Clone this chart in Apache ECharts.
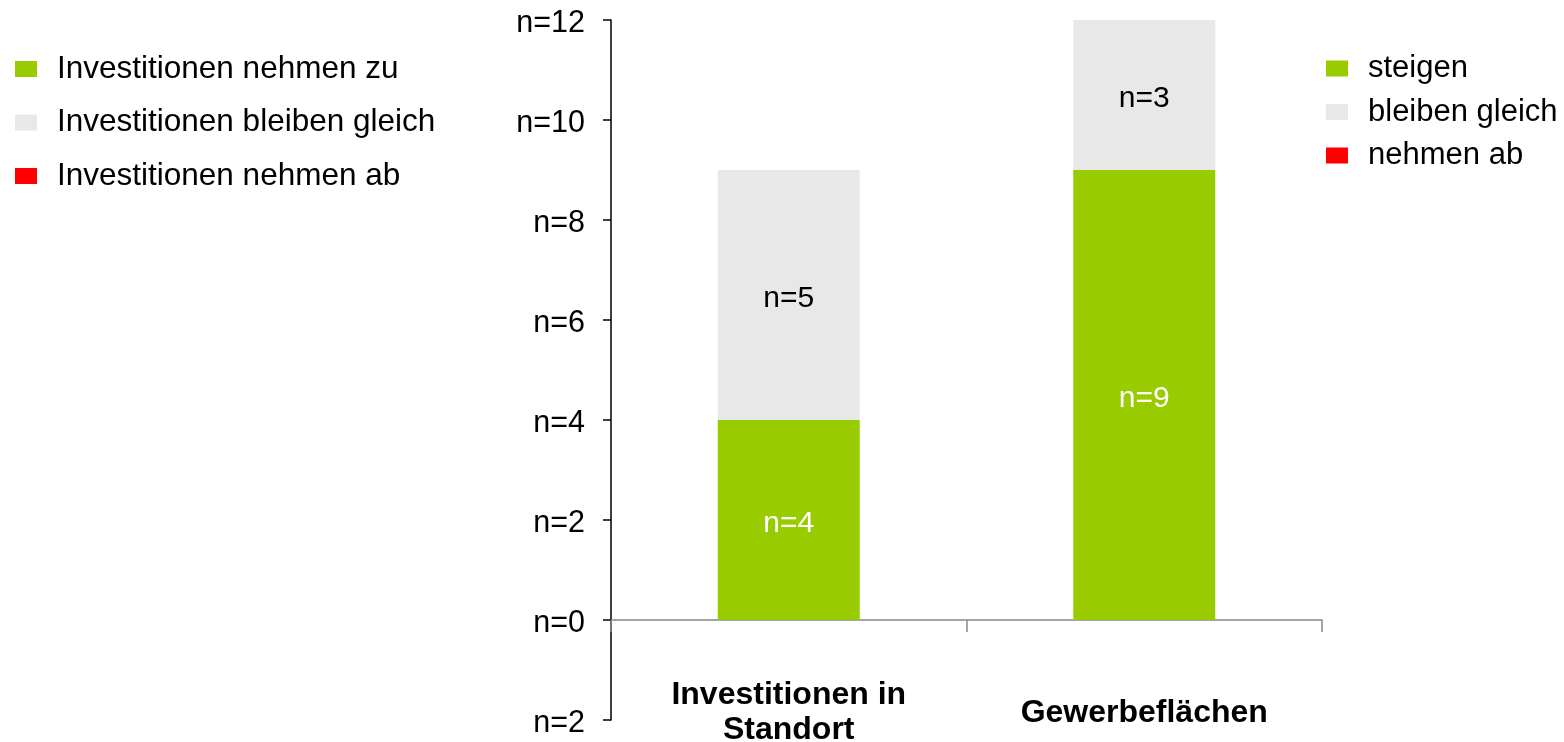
<!DOCTYPE html>
<html>
<head>
<meta charset="utf-8">
<script src="https://cdn.jsdelivr.net/npm/echarts@6/dist/echarts.min.js"></script>
<style>html,body{margin:0;padding:0;background:#fff}#c{width:1564px;height:742px}</style>
</head>
<body>
<div id="c"></div>
<script>
const categories = ['Investitionen in\nStandort', 'Gewerbeflächen'];
const leftLegendNames = ['Investitionen nehmen zu', 'Investitionen bleiben gleich', 'Investitionen nehmen ab'];
const rightLegendNames = ['steigen', 'bleiben gleich', 'nehmen ab'];
const standortValues = [4, 5, 0];     // zu, gleich, ab
const gewerbeValues = [9, 3, 0];      // steigen, gleich, ab
const yTicks = [-2, 0, 2, 4, 6, 8, 10, 12];

const colors = ['#99CC00', '#E8E8E8', '#FF0000'];
const labelColors = ['#ffffff', '#000000', '#000000'];
const FONT = "'Liberation Sans', Arial, sans-serif";

function mkSeries(name, idx, value, catIndex) {
  const data = categories.map((c, i) => i === catIndex ? value : '-');
  return {
    name: name,
    type: 'bar',
    stack: 'total',
    barWidth: 142,
    data: data,
    itemStyle: { color: colors[idx] },
    label: {
      show: true,
      position: 'inside',
      offset: [0, 4],
      color: labelColors[idx],
      fontFamily: FONT,
      fontSize: 30,
      formatter: p => (typeof p.value === 'number' && p.value > 0) ? 'n=' + p.value : ''
    }
  };
}

const series = [];
leftLegendNames.forEach((n, i) => series.push(mkSeries(n, i, standortValues[i], 0)));
rightLegendNames.forEach((n, i) => series.push(mkSeries(n, i, gewerbeValues[i], 1)));

const chart = echarts.init(document.getElementById('c'), null, { renderer: 'canvas' });
chart.setOption({
  animation: false,
  backgroundColor: '#ffffff',
  color: colors,
  grid: { left: 611, right: 242, top: 20, height: 700, containLabel: false, outerBoundsMode: 'none' },
  legend: [
    {
      data: leftLegendNames,
      orient: 'vertical',
      left: 15, top: 53,
      padding: 0,
      itemWidth: 22, itemHeight: 16,
      itemGap: 21.5,
      icon: 'rect',
      textStyle: { fontFamily: FONT, fontSize: 31.5, color: '#000', lineHeight: 31, padding: [0, 0, 0, 15] }
    },
    {
      data: rightLegendNames,
      orient: 'vertical',
      left: 1326, top: 53,
      padding: 0,
      itemWidth: 22, itemHeight: 16,
      itemGap: 12.5,
      icon: 'rect',
      textStyle: { fontFamily: FONT, fontSize: 31, color: '#000', lineHeight: 31, padding: [0, 0, 0, 15] }
    }
  ],
  xAxis: {
    type: 'category',
    data: categories,
    axisLine: { show: true, onZero: true, lineStyle: { color: '#888888', width: 1.5 } },
    axisTick: { show: true, length: 12, alignWithLabel: false, lineStyle: { color: '#888888', width: 1.5 } },
    axisLabel: {
      fontFamily: FONT, fontSize: 32, fontWeight: 'bold', color: '#000',
      lineHeight: 35, margin: -7, verticalAlign: 'middle', interval: 0, hideOverlap: false
    },
    splitLine: { show: false }
  },
  yAxis: {
    type: 'value',
    min: yTicks[0],
    max: yTicks[yTicks.length - 1],
    interval: 2,
    axisLine: { show: true, lineStyle: { color: '#000', width: 1.5 } },
    axisTick: { show: true, length: 8, lineStyle: { color: '#000', width: 1.5 } },
    axisLabel: {
      fontFamily: FONT, fontSize: 30.5, color: '#000', margin: 26,
      formatter: v => '{a|n=' + Math.abs(v) + '}',
      rich: { a: { fontFamily: FONT, fontSize: 30.5, color: '#000', padding: [8, 0, 0, 0] } }
    },
    splitLine: { show: false }
  },
  series: series
});
</script>
</body>
</html>
